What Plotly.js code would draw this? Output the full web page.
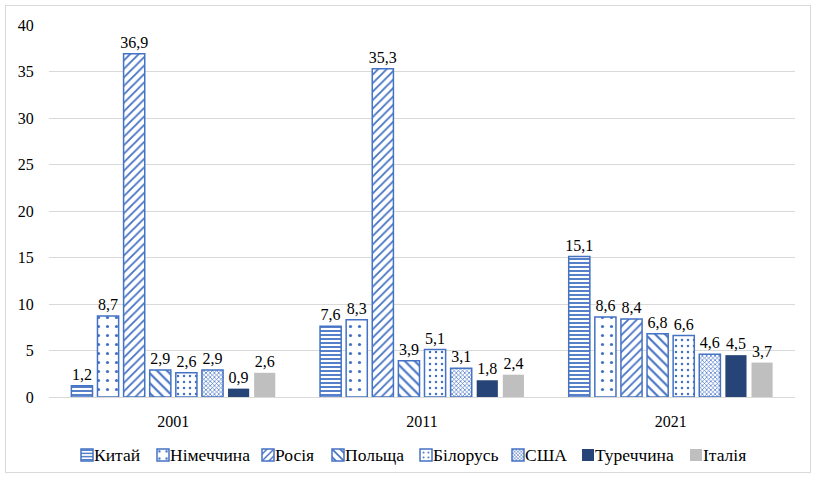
<!DOCTYPE html>
<html><head><meta charset="utf-8">
<script src="https://cdn.plot.ly/plotly-3.0.1.min.js"></script>
<style>
body{margin:0;padding:0;background:#fff;}
#wrap{position:relative;width:814px;height:477px;}
#chart{position:absolute;left:0;top:0;width:814px;height:477px;}
#frame{position:absolute;left:5px;top:5px;width:804px;height:466px;border:1px solid #d9d9d9;pointer-events:none;}
</style>
</head><body>
<div id="wrap"><div id="chart"></div><div id="frame"></div></div>
<script>
const years = ['2001', '2011', '2021'];
const countries = ['Китай', 'Німеччина', 'Росія', 'Польща', 'Білорусь', 'США', 'Туреччина', 'Італія'];
const china = [1.2, 7.6, 15.1];
const germany = [8.7, 8.3, 8.6];
const russia = [36.9, 35.3, 8.4];
const poland = [2.9, 3.9, 6.8];
const belarus = [2.6, 5.1, 6.6];
const usa = [2.9, 3.1, 4.6];
const turkey = [0.9, 1.8, 4.5];
const italy = [2.6, 2.4, 3.7];

const seriesVals = [china, germany, russia, poland, belarus, usa, turkey, italy];
const blue = '#4472c4';
const FONT = '"Liberation Serif", "Times New Roman", serif';
const styles = [
  {shape: '-', size: 4, solidity: 0.45},
  {shape: '.', size: 9, solidity: 0.1},
  {shape: '/', size: 6, solidity: 0.3},
  {shape: '\\', size: 7, solidity: 0.3},
  {shape: '.', size: 6, solidity: 0.14},
  {shape: 'x', size: 3, solidity: 0.4},
  null, null
];
const solids = [null, null, null, null, null, null, '#264478', '#bfbfbf'];

// legend layout (pixel positions of legend text starts)
const PL = 49, PW = 746, PT = 25, PH = 372;
const legendTextX = [92, 168, 273, 343, 431, 523, 593, 701];
const legendY = 455;

const traces = countries.map((name, i) => {
  const marker = {};
  if (styles[i]) {
    marker.color = '#ffffff';
    marker.pattern = {shape: styles[i].shape, fgcolor: blue, bgcolor: '#ffffff', size: styles[i].size, solidity: styles[i].solidity, fillmode: 'replace'};
    marker.line = {color: blue, width: 1.5};
  } else {
    marker.color = solids[i];
    marker.line = {width: 0};
  }
  return {
    type: 'bar', name: '', x: years, y: seriesVals[i],
    legend: i === 0 ? 'legend' : 'legend' + (i + 1),
    marker: marker,
    text: seriesVals[i].map(v => v.toFixed(1).replace('.', ',')),
    textposition: 'outside', cliponaxis: false, constraintext: 'none',
    textfont: {family: FONT, size: 16, color: '#000'},
    hoverinfo: 'none'
  };
});

const layout = {
  width: 814, height: 477,
  margin: {l: PL, r: 814 - PL - PW, t: PT, b: 477 - PT - PH, autoexpand: false},
  paper_bgcolor: '#ffffff', plot_bgcolor: '#ffffff',
  barmode: 'group', bargap: 0.16, bargroupgap: 0.19,
  font: {family: FONT, size: 16, color: '#000'},
  showlegend: true,
  annotations: countries.map((name, i) => ({
    text: name, xref: 'paper', yref: 'paper',
    x: (legendTextX[i] - PL) / PW, y: -(legendY - PT - PH) / PH,
    xanchor: 'left', yanchor: 'middle', showarrow: false,
    font: {family: FONT, size: 17.5, color: '#000'}
  })),
  xaxis: {type: 'category', showline: true, linecolor: '#d9d9d9', linewidth: 1,
          ticks: 'outside', ticklen: 10, tickcolor: 'rgba(0,0,0,0)',
          tickfont: {family: FONT, size: 16}, showgrid: false},
  yaxis: {range: [0, 40], dtick: 5, showgrid: true, gridcolor: '#d9d9d9', gridwidth: 1,
          zeroline: false, showline: false, ticks: 'outside', ticklen: 11, tickcolor: 'rgba(0,0,0,0)',
          tickfont: {family: FONT, size: 16}}
};
countries.forEach((name, i) => {
  const key = i === 0 ? 'legend' : 'legend' + (i + 1);
  layout[key] = {
    x: (legendTextX[i] - 25 - PL) / PW, xanchor: 'left',
    y: -(legendY - PT - PH) / PH, yanchor: 'middle',
    orientation: 'h', itemwidth: 30, bgcolor: 'rgba(0,0,0,0)', borderwidth: 0,
    font: {family: FONT, size: 12, color: '#000'}
  };
});

Plotly.newPlot('chart', traces, layout, {displayModeBar: false, staticPlot: true});
</script>
</body></html>
